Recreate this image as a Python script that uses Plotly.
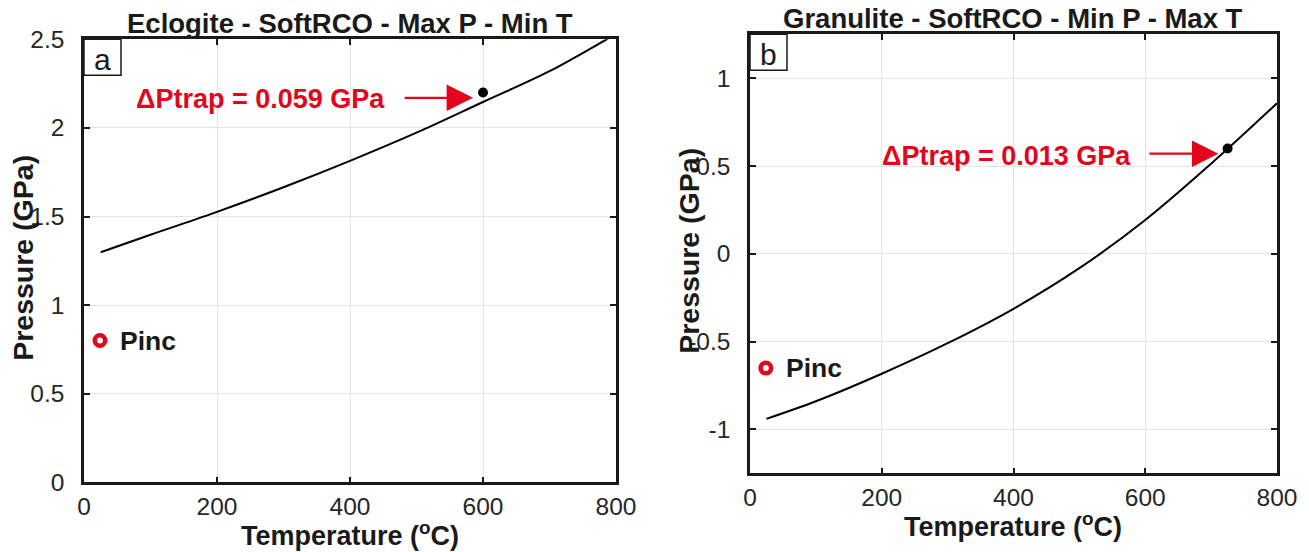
import plotly.graph_objects as go

W, H = 1309, 552

# ---------------- data ----------------
# Panel a : Eclogite - SoftRCO - Max P - Min T
temp_a = [25, 100, 200, 300, 400, 500, 600, 700, 786, 800]
pres_a = [1.298, 1.397, 1.526, 1.665, 1.814, 1.973, 2.146, 2.32, 2.50, 2.53]
trap_a = (600, 2.2)
pinc_a = (24, 0.80)
label_a = "ΔPtrap = 0.059 GPa"

# Panel b : Granulite - SoftRCO - Min P - Max T
temp_b = [25, 100, 200, 300, 400, 500, 600, 700, 800]
pres_b = [-0.94, -0.84, -0.683, -0.509, -0.313, -0.082, 0.192, 0.513, 0.857]
trap_b = (725, 0.60)
pinc_b = (24, -0.651)
label_b = "ΔPtrap = 0.013 GPa"

x_ticks = [0, 200, 400, 600, 800]
y_ticks_a = [0, 0.5, 1, 1.5, 2, 2.5]
y_ticks_a_text = ["0", "0.5", "1", "1.5", "2", "2.5"]
y_ticks_b = [-1, -0.5, 0, 0.5, 1]
y_ticks_b_text = ["-1", "-0.5", "0", "0.5", "1"]

titles = ["Eclogite - SoftRCO - Max P - Min T", "Granulite - SoftRCO - Min P - Max T"]
panel_letters = ["a", "b"]

RED = "#e3051b"
DARK = "#1a1a1a"
FONT = "Liberation Sans, Arial, sans-serif"

# ---------------- layout geometry (pixels) ----------------
pa = dict(l=84, r=616, t=39.3, b=482.3)
pb = dict(l=750, r=1277, t=34.3, b=473.3)


def xdom(p):
    return [p["l"] / W, p["r"] / W]


def ydom(p):
    return [1 - p["b"] / H, 1 - p["t"] / H]


fig = go.Figure()

# curves
fig.add_trace(go.Scatter(x=temp_a, y=pres_a, mode="lines", line=dict(color="black", width=2, shape="spline"),
                         xaxis="x", yaxis="y", showlegend=False, cliponaxis=True))
fig.add_trace(go.Scatter(x=temp_b, y=pres_b, mode="lines", line=dict(color="black", width=2, shape="spline"),
                         xaxis="x2", yaxis="y2", showlegend=False, cliponaxis=True))

# trap points
fig.add_trace(go.Scatter(x=[trap_a[0]], y=[trap_a[1]], mode="markers", marker=dict(color="black", size=10),
                         xaxis="x", yaxis="y", showlegend=False))
fig.add_trace(go.Scatter(x=[trap_b[0]], y=[trap_b[1]], mode="markers", marker=dict(color="black", size=10),
                         xaxis="x2", yaxis="y2", showlegend=False))

# Pinc markers
for (px, py), xa, ya in [(pinc_a, "x", "y"), (pinc_b, "x2", "y2")]:
    fig.add_trace(go.Scatter(x=[px], y=[py], mode="markers",
                             marker=dict(color="white", size=10.5, line=dict(color=RED, width=4.5)),
                             xaxis=xa, yaxis=ya, showlegend=False, cliponaxis=False))

axis_common = dict(
    showline=True, linecolor=DARK, linewidth=2.5, mirror="allticks",
    ticks="inside", ticklen=6, tickwidth=2, tickcolor=DARK,
    showgrid=True, gridcolor="#e3e3e3", gridwidth=1.2,
    zeroline=False, automargin=False,
    tickfont=dict(family=FONT, size=24.5, color="#262626"),
)

fig.update_layout(
    width=W, height=H,
    margin=dict(l=0, r=0, t=0, b=0, pad=0, autoexpand=False),
    paper_bgcolor="white", plot_bgcolor="white",
    font=dict(family=FONT, color=DARK),
    xaxis=dict(domain=xdom(pa), range=[0, 800], tickvals=x_ticks, anchor="y", ticklabelstandoff=1, **axis_common),
    yaxis=dict(domain=ydom(pa), range=[0, 2.5], tickvals=y_ticks_a, ticktext=y_ticks_a_text, anchor="x",
               ticklabelstandoff=12, **axis_common),
    xaxis2=dict(domain=xdom(pb), range=[0, 800], tickvals=x_ticks, anchor="y2", ticklabelstandoff=1, **axis_common),
    yaxis2=dict(domain=ydom(pb), range=[-1.25, 1.25], tickvals=y_ticks_b, ticktext=y_ticks_b_text, anchor="x2",
                ticklabelstandoff=12, **axis_common),
)

ann = []
shapes = []
for i, (p, xr, yr) in enumerate([(pa, "x", "y"), (pb, "x2", "y2")]):
    cx = (p["l"] + p["r"]) / 2 / W
    # title
    ann.append(dict(text=f"<b>{titles[i]}</b>", xref="paper", yref="paper", x=cx, y=1 - (p["t"] - 16) / H,
                    xanchor="center", yanchor="middle", showarrow=False,
                    font=dict(family=FONT, size=27.5, color=DARK)))
    # x title
    ann.append(dict(text="<b>Temperature (<sup>o</sup>C)</b>", xref="paper", yref="paper", x=cx,
                    y=1 - (p["b"] + 52) / H, xanchor="center", yanchor="middle", showarrow=False,
                    font=dict(family=FONT, size=27, color=DARK)))
    # y title
    ann.append(dict(text="<b>Pressure (GPa)</b>", xref="paper", yref="paper", x=(p["l"] - 61) / W,
                    y=1 - ((p["t"] + p["b"]) / 2 - 3) / H, xanchor="center", yanchor="middle",
                    textangle=-90, showarrow=False, font=dict(family=FONT, size=28.5, color=DARK)))
    # panel letter box
    bw = 37 / (p["r"] - p["l"])
    bh = 36 / (p["b"] - p["t"])
    shapes.append(dict(type="rect", xref=f"{xr} domain", yref=f"{yr} domain", x0=0, x1=bw, y0=1 - bh, y1=1,
                       line=dict(color=DARK, width=1.5), fillcolor="white", layer="above"))
    ann.append(dict(text=panel_letters[i], xref=f"{xr} domain", yref=f"{yr} domain", x=bw / 2, y=1 - bh / 2 - 0.004,
                    xanchor="center", yanchor="middle", showarrow=False,
                    font=dict(family=FONT, size=30, color=DARK)))

# Pinc labels
for (px, py), xr, yr in [(pinc_a, "x", "y"), (pinc_b, "x2", "y2")]:
    ann.append(dict(text="<b>Pinc</b>", x=px, y=py, xref=xr, yref=yr, xanchor="left", yanchor="middle",
                    xshift=18, showarrow=False, font=dict(family=FONT, size=26.5, color=DARK)))

# arrows and ΔPtrap labels (data coordinates)
arrows = [
    dict(xr="x", yr="y", tail=(480, 2.170), head=(585, 2.170), text=(266, 2.161), label=label_a),
    dict(xr="x2", yr="y2", tail=(604, 0.570), head=(711, 0.570), text=(390, 0.5565), label=label_b),
]
for a in arrows:
    ann.append(dict(x=a["head"][0], y=a["head"][1], ax=a["tail"][0], ay=a["tail"][1], xref=a["xr"], yref=a["yr"],
                    axref=a["xr"], ayref=a["yr"], text="", showarrow=True, arrowhead=2, arrowsize=2.4,
                    arrowwidth=2.2, arrowcolor=RED))
    ann.append(dict(x=a["text"][0], y=a["text"][1], xref=a["xr"], yref=a["yr"], text=f"<b>{a['label']}</b>",
                    showarrow=False, xanchor="center", yanchor="middle",
                    font=dict(family=FONT, size=27, color=RED)))

fig.update_layout(annotations=ann, shapes=shapes)

fig.write_html("out.html", config={"displayModeBar": False},
               post_script="document.body.style.margin='0';document.body.style.overflow='hidden';")
